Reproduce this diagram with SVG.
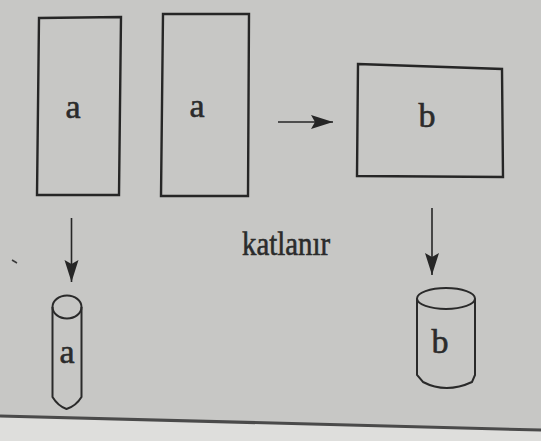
<svg xmlns="http://www.w3.org/2000/svg" width="541" height="441" viewBox="0 0 541 441">
  <style>
    .shape { fill: none; stroke: #262626; stroke-width: 2.4; stroke-linejoin: miter; }
    .body { fill: none; stroke: #2a2a2a; stroke-width: 2; }
    .link { fill: none; stroke: #262626; stroke-width: 1.6; }
    .label { font-family: "Liberation Serif", "Times New Roman", serif; font-size: 34px; fill: #2b2b2b; stroke: #2b2b2b; stroke-width: 0.6; text-anchor: middle; }
  </style>
  <defs>
    <marker id="head" markerUnits="userSpaceOnUse" markerWidth="24" markerHeight="16" viewBox="0 -8 24 16" refX="22" refY="0" orient="auto">
      <path d="M0,-7 L22,0 L0,7 L4,0 z" fill="#262626"/>
    </marker>
  </defs>

  <!-- page -->
  <rect x="0" y="0" width="541" height="441" fill="#c7c7c5"/>
  <path d="M0,416 L541,430 L541,441 L0,441 z" fill="#dededc"/>
  <path d="M0,416 L541,430" stroke="#4a4a4a" stroke-width="3" fill="none"/>
  <path d="M12,260 L17,263" stroke="#3a3a3a" stroke-width="1.5" fill="none"/>

  <!-- sheet a, first -->
  <g id="sheet-a1">
    <polygon class="shape" points="39,18 121,17 119,195 37,195"/>
    <text class="label" x="73" y="118">a</text>
  </g>

  <!-- sheet a, second -->
  <g id="sheet-a2">
    <polygon class="shape" points="163,14 249,14 248,196 161,196"/>
    <text class="label" x="197" y="117">a</text>
  </g>

  <!-- sheet b -->
  <g id="sheet-b">
    <polygon class="shape" points="358,64 502,69 503,177 357,176"/>
    <text class="label" x="427" y="127">b</text>
  </g>

  <!-- rolled tube a -->
  <g id="tube-a">
    <ellipse class="body" cx="67" cy="307" rx="14.5" ry="11.5"/>
    <path class="body" d="M52.5,307 L52.5,397 Q58,406 66.5,409 Q76,406 81.5,397 L81.5,307"/>
    <text class="label" x="67" y="363">a</text>
  </g>

  <!-- rolled tube b -->
  <g id="tube-b">
    <ellipse class="body" cx="446" cy="298.5" rx="29" ry="10.5"/>
    <path class="body" d="M417,298.5 L417,375 L423,382 Q446,394 472,382 L475,375 L475,298.5"/>
    <text class="label" x="440" y="353">b</text>
  </g>

  <!-- caption -->
  <g id="caption">
    <text class="label" x="286" y="255" textLength="88" lengthAdjust="spacingAndGlyphs">katlanır</text>
  </g>

  <!-- connectors -->
  <g id="connectors">
    <line class="link" x1="278" y1="122" x2="333" y2="122" marker-end="url(#head)"/>
    <line class="link" x1="71.5" y1="218" x2="71.5" y2="282" marker-end="url(#head)"/>
    <line class="link" x1="432" y1="208" x2="432" y2="275" marker-end="url(#head)"/>
  </g>
</svg>
